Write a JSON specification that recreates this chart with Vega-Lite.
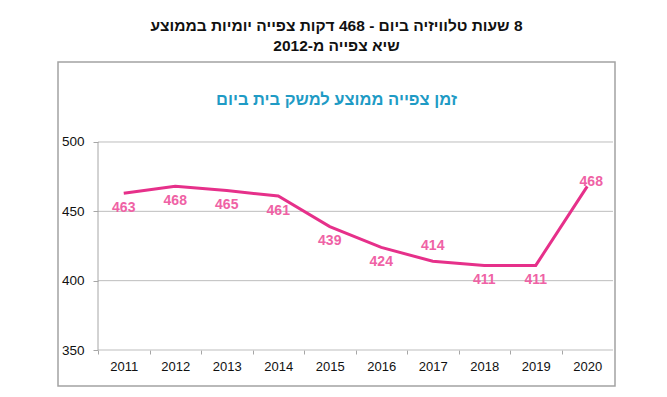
{
  "$schema": "https://vega.github.io/schema/vega-lite/v6.json",
  "width": 557,
  "height": 324,
  "autosize": {"type": "none"},
  "padding": {"left": 58, "top": 62, "right": 52, "bottom": 11},
  "background": "white",
  "config": {
    "view": {"stroke": "#a3a3a3", "strokeWidth": 1.5},
    "font": "Liberation Sans"
  },
  "title": {
    "text": ["\u200f8 שעות טלוויזיה ביום - 468 דקות צפייה יומיות בממוצע", "שיא צפייה מ-2012"],
    "subtitle": "זמן צפייה ממוצע למשק בית ביום",
    "anchor": "middle",
    "offset": -46,
    "font": "Liberation Sans",
    "fontSize": 15.5,
    "fontWeight": "bold",
    "color": "#111111",
    "lineHeight": 20,
    "subtitleFont": "Liberation Sans",
    "subtitleFontSize": 16.5,
    "subtitleFontWeight": "bold",
    "subtitleColor": "#1f9bc5",
    "subtitlePadding": 37
  },
  "datasets": {
    "tv": [
      {"year": 2011, "minutes": 463},
      {"year": 2012, "minutes": 468},
      {"year": 2013, "minutes": 465},
      {"year": 2014, "minutes": 461},
      {"year": 2015, "minutes": 439},
      {"year": 2016, "minutes": 424},
      {"year": 2017, "minutes": 414},
      {"year": 2018, "minutes": 411},
      {"year": 2019, "minutes": 411},
      {"year": 2020, "minutes": 468}
    ],
    "grid": [
      {"value": 350},
      {"value": 400},
      {"value": 450},
      {"value": 500}
    ]
  },
  "layer": [
    {
      "data": {"name": "grid"},
      "mark": {"type": "rule", "color": "#bdbdbd", "strokeWidth": 1},
      "encoding": {
        "y": {"field": "value", "type": "quantitative", "scale": {"domain": [324.04, 557.69], "nice": false, "zero": false}, "axis": {"title": null}},
        "x": {"datum": 2010.5, "type": "quantitative", "scale": {"domain": [2009.7233, 2020.5388], "nice": false, "zero": false}, "axis": {"title": null}},
        "x2": {"datum": 2020.5}
      }
    },
    {
      "data": {"name": "grid"},
      "transform": [{"filter": "datum.value == 350"}],
      "mark": {"type": "rule", "color": "#a6a6a6", "strokeWidth": 1},
      "encoding": {
        "x": {"datum": 2010.5, "type": "quantitative", "scale": {"domain": [2009.7233, 2020.5388], "nice": false, "zero": false}, "axis": {"title": null}},
        "y": {"datum": 350, "type": "quantitative", "scale": {"domain": [324.04, 557.69], "nice": false, "zero": false}, "axis": {"title": null}},
        "y2": {"datum": 500}
      }
    },
    {
      "data": {"name": "tv"},
      "mark": {"type": "line", "color": "#e6308a", "strokeWidth": 3},
      "encoding": {
        "x": {
          "field": "year", "type": "quantitative",
          "scale": {"domain": [2009.7233, 2020.5388], "nice": false, "zero": false},
          "axis": {
            "title": null,
            "values": [2010.5, 2011.5, 2012.5, 2013.5, 2014.5, 2015.5, 2016.5, 2017.5, 2018.5, 2019.5],
            "labelExpr": "format(datum.value + 0.5, 'd')",
            "labelOffset": 25.75,
            "grid": false, "domain": false,
            "ticks": true, "tickSize": 4, "tickColor": "#a6a6a6",
            "offset": -36,
            "labelFont": "Liberation Sans", "labelFontSize": 13, "labelColor": "#111111",
            "labelPadding": 6, "labelFlush": false, "labelOverlap": false, "labelBound": false
          }
        },
        "y": {
          "field": "minutes", "type": "quantitative",
          "scale": {"domain": [324.04, 557.69], "nice": false, "zero": false},
          "axis": {
            "title": null,
            "values": [350, 400, 450, 500],
            "grid": false, "domain": false,
            "ticks": true, "tickSize": 5, "tickColor": "#a6a6a6",
            "offset": -40,
            "labelFont": "Liberation Sans", "labelFontSize": 13.5, "labelColor": "#111111",
            "labelPadding": 9
          }
        }
      }
    },
    {
      "data": {"name": "tv"},
      "transform": [{"filter": "datum.year != 2017 && datum.year != 2020"}],
      "mark": {"type": "text", "color": "#ef62a5", "fontWeight": "bold", "fontSize": 14, "font": "Liberation Sans", "baseline": "middle", "align": "center", "dy": 14.5},
      "encoding": {
        "x": {"field": "year", "type": "quantitative", "scale": {"domain": [2009.7233, 2020.5388], "nice": false, "zero": false}, "axis": {"title": null}},
        "y": {"field": "minutes", "type": "quantitative", "scale": {"domain": [324.04, 557.69], "nice": false, "zero": false}, "axis": {"title": null}},
        "text": {"field": "minutes", "type": "quantitative"}
      }
    },
    {
      "data": {"name": "tv"},
      "transform": [{"filter": "datum.year == 2017"}],
      "mark": {"type": "text", "color": "#ef62a5", "fontWeight": "bold", "fontSize": 14, "font": "Liberation Sans", "baseline": "middle", "align": "center", "dy": -15},
      "encoding": {
        "x": {"field": "year", "type": "quantitative", "scale": {"domain": [2009.7233, 2020.5388], "nice": false, "zero": false}, "axis": {"title": null}},
        "y": {"field": "minutes", "type": "quantitative", "scale": {"domain": [324.04, 557.69], "nice": false, "zero": false}, "axis": {"title": null}},
        "text": {"field": "minutes", "type": "quantitative"}
      }
    },
    {
      "data": {"name": "tv"},
      "transform": [{"filter": "datum.year == 2020"}],
      "mark": {"type": "text", "color": "#ef62a5", "fontWeight": "bold", "fontSize": 14, "font": "Liberation Sans", "baseline": "middle", "align": "center", "dy": -4, "dx": 4},
      "encoding": {
        "x": {"field": "year", "type": "quantitative", "scale": {"domain": [2009.7233, 2020.5388], "nice": false, "zero": false}, "axis": {"title": null}},
        "y": {"field": "minutes", "type": "quantitative", "scale": {"domain": [324.04, 557.69], "nice": false, "zero": false}, "axis": {"title": null}},
        "text": {"field": "minutes", "type": "quantitative"}
      }
    }
  ]
}
